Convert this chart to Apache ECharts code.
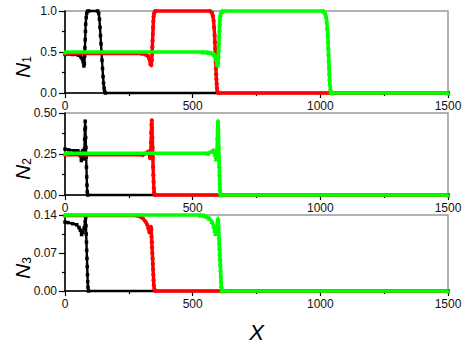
<!DOCTYPE html>
<html>
<head>
<meta charset="utf-8">
<script src="https://cdn.jsdelivr.net/npm/echarts@6/dist/echarts.min.js"></script>
<style>
  html, body { margin: 0; padding: 0; background: #fff; }
  #chart { width: 465px; height: 344px; }
</style>
</head>
<body>
<div id="chart"></div>
<script>
// x ticks shared by all three panels
const xTicks = [0, 500, 1000, 1500]

// panel 1: N1
const n1Black = [[0,0.47],[30,0.47],[50,0.465],[56,0.46],[62,0.44],[67,0.42],[71,0.38],[74,0.33],[76,0.36],[77,0.45],[78,0.55],[79,0.65],[80,0.75],[81,0.84],[83,0.92],[85,0.97],[88,0.995],[92,1],[128,1],[132,0.97],[135,0.9],[137,0.8],[139,0.7],[141,0.6],[143,0.5],[145,0.4],[147,0.3],[149,0.2],[151,0.12],[153,0.06],[155,0.02],[158,0],[1500,0]]
const n1Red = [[0,0.48],[300,0.48],[315,0.47],[325,0.45],[331,0.41],[335,0.35],[338,0.34],[340,0.4],[341,0.48],[342,0.56],[343,0.64],[344,0.72],[345,0.8],[346,0.87],[347,0.93],[349,0.97],[352,0.995],[356,1],[568,1],[575,0.98],[579,0.94],[582,0.88],[584,0.8],[586,0.7],[587,0.62],[588,0.54],[589,0.46],[590,0.38],[591,0.3],[592,0.23],[593,0.17],[594,0.11],[595,0.06],[597,0.02],[600,0],[1500,0]]
const n1Green = [[0,0.5],[540,0.5],[560,0.495],[572,0.49],[580,0.48],[585,0.47],[589,0.45],[592,0.41],[595,0.36],[598,0.34],[600,0.38],[601,0.46],[602,0.54],[603,0.62],[604,0.7],[605,0.78],[606,0.85],[607,0.91],[609,0.96],[612,0.99],[616,1],[1012,1],[1018,0.98],[1022,0.94],[1025,0.88],[1027,0.8],[1029,0.72],[1030,0.64],[1031,0.56],[1032,0.48],[1033,0.4],[1034,0.32],[1035,0.25],[1036,0.18],[1037,0.12],[1039,0.06],[1041,0.02],[1045,0],[1500,0]]

// panel 2: N2
const n2Black = [[0,0.28],[15,0.275],[35,0.27],[50,0.27],[55,0.26],[60,0.24],[64,0.21],[67,0.23],[70,0.27],[73,0.26],[75,0.22],[76,0.28],[77,0.34],[78,0.4],[79,0.45],[80,0.41],[81,0.35],[82,0.29],[83,0.23],[84,0.17],[85,0.11],[86,0.06],[87,0.02],[89,0],[1500,0]]
const n2Red = [[0,0.245],[305,0.245],[318,0.255],[326,0.265],[330,0.25],[333,0.225],[335,0.23],[336,0.27],[337,0.32],[338,0.38],[339,0.43],[340,0.455],[341,0.41],[342,0.35],[343,0.29],[344,0.23],[345,0.17],[346,0.12],[347,0.08],[348,0.04],[349,0.015],[351,0],[1500,0]]
const n2Green = [[0,0.255],[560,0.255],[575,0.265],[582,0.275],[587,0.25],[591,0.22],[594,0.235],[596,0.29],[597,0.35],[598,0.41],[599,0.455],[600,0.42],[601,0.36],[602,0.3],[603,0.24],[604,0.18],[605,0.13],[606,0.08],[607,0.04],[608,0.015],[610,0],[1500,0]]

// panel 3: N3
const n3Black = [[0,0.127],[12,0.126],[30,0.124],[46,0.122],[55,0.117],[60,0.112],[65,0.104],[70,0.108],[75,0.116],[79,0.128],[81,0.135],[82,0.12],[83,0.105],[84,0.09],[85,0.075],[86,0.06],[87,0.045],[88,0.03],[89,0.017],[90,0.007],[92,0],[1500,0]]
const n3Red = [[0,0.139],[280,0.139],[295,0.137],[305,0.134],[315,0.128],[322,0.122],[327,0.115],[331,0.108],[334,0.11],[336,0.118],[338,0.113],[339,0.1],[340,0.09],[341,0.08],[342,0.07],[343,0.06],[344,0.05],[345,0.04],[346,0.03],[347,0.02],[348,0.01],[350,0.003],[353,0],[1500,0]]
const n3Green = [[0,0.14],[530,0.14],[545,0.139],[555,0.137],[565,0.134],[575,0.128],[582,0.12],[586,0.112],[589,0.106],[592,0.11],[595,0.118],[598,0.13],[600,0.134],[601,0.12],[602,0.11],[603,0.1],[604,0.09],[605,0.08],[606,0.07],[607,0.06],[608,0.05],[609,0.04],[610,0.03],[611,0.02],[612,0.01],[614,0.003],[617,0],[1500,0]]

// y ticks per panel
const yTicks1 = [0, 0.5, 1.0]
const yTicks2 = [0, 0.25, 0.5]
const yTicks3 = [0, 0.07, 0.14]

const panels = [
  { ticks: yTicks1, digits: 1, name: '1', data: [n1Black, n1Red, n1Green] },
  { ticks: yTicks2, digits: 2, name: '2', data: [n2Black, n2Red, n2Green] },
  { ticks: yTicks3, digits: 2, name: '3', data: [n3Black, n3Red, n3Green] }
]
const tops = [11, 113, 215]
const styles = [
  { color: '#000000', symbol: 'rect', size: 3.5, width: 2.4 },
  { color: '#ff0000', symbol: 'circle', size: 4.2, width: 3.4 },
  { color: '#00ff00', symbol: 'triangle', size: 5, width: 3.6 }
]
const font = 'Liberation Sans'

let myChart = echarts.init(document.getElementById('chart'), null, { renderer: 'svg' })

let grid = [], xAxis = [], yAxis = [], series = []
panels.forEach((p, i) => {
  grid.push({
    left: 65, top: tops[i], width: 383, height: 82,
    show: true, borderColor: '#999', borderWidth: 1.5, backgroundColor: 'transparent'
  })
  xAxis.push({
    type: 'value', gridIndex: i,
    min: xTicks[0], max: xTicks[xTicks.length - 1], interval: xTicks[1] - xTicks[0],
    axisLine: { show: true, onZero: false, lineStyle: { color: '#000', width: 1.5 } },
    axisTick: { show: true, length: 5, lineStyle: { color: '#000', width: 1.2 } },
    minorTick: { show: true, splitNumber: 2, length: 3, lineStyle: { color: '#000', width: 1.2 } },
    splitLine: { show: false },
    axisLabel: {
      color: '#111', fontFamily: font, fontSize: 12, margin: 7,
      customValues: xTicks,
      formatter: v => String(v)
    },
    name: i === 2 ? 'X' : '',
    nameLocation: 'middle',
    nameGap: 30,
    nameTextStyle: { fontFamily: font, fontStyle: 'italic', fontSize: 22, color: '#000' }
  })
  const step = p.ticks[1] - p.ticks[0]
  yAxis.push({
    type: 'value', gridIndex: i,
    min: p.ticks[0], max: p.ticks[p.ticks.length - 1], interval: step,
    axisLine: { show: true, onZero: false, lineStyle: { color: '#000', width: 1.5 } },
    axisTick: { show: true, length: 6, customValues: p.ticks, lineStyle: { color: '#000', width: 1.2 } },
    minorTick: { show: true, splitNumber: 2, length: 3, lineStyle: { color: '#000', width: 1.2 } },
    splitLine: { show: false },
    axisLabel: {
      color: '#111', fontFamily: font, fontSize: 12, margin: 8,
      customValues: p.ticks,
      hideOverlap: false,
      formatter: v => v.toFixed(p.digits)
    },
    // rotated title N with subscript
    name: '{n|N}{s|' + p.name + '}',
    nameLocation: 'middle',
    nameRotate: 90,
    nameGap: 32,
    nameMoveOverlap: false,
    nameTextStyle: {
      padding: [0, 30, 0, 0],
      rich: {
        n: { fontFamily: font, fontStyle: 'italic', fontSize: 21, color: '#000' },
        s: { fontFamily: font, fontSize: 12, color: '#000', verticalAlign: 'bottom', padding: [10, 0, 0, 0] }
      }
    }
  })
  p.data.forEach((d, k) => {
    const s = styles[k]
    series.push({
      type: 'line', xAxisIndex: i, yAxisIndex: i,
      data: d,
      symbol: s.symbol, symbolSize: s.size,
      showAllSymbol: true,
      clip: false,
      itemStyle: { color: s.color },
      lineStyle: { color: s.color, width: s.width },
      z: 2 + k,
      animation: false
    })
  })
})

let option = {
  animation: false,
  backgroundColor: '#fff',
  grid: grid,
  xAxis: xAxis,
  yAxis: yAxis,
  series: series
}
myChart.setOption(option, true)
</script>
</body>
</html>
